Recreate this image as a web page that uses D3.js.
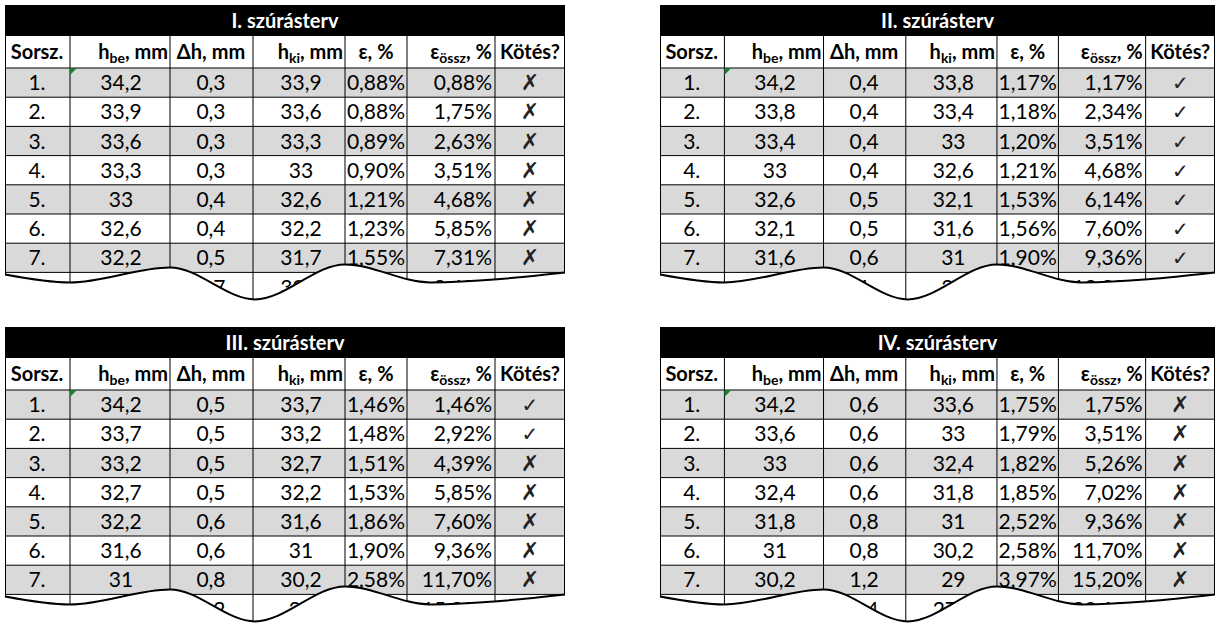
<!DOCTYPE html>
<html><head><meta charset="utf-8">
<script src="https://cdn.jsdelivr.net/npm/d3@7"></script>
<style>body{margin:0;background:#fff}svg{font-family:Lato,"Open Sans",sans-serif}</style>
</head><body><svg id="c" width="1220" height="632"></svg>
<script>
const titles = ["I. szúrásterv", "II. szúrásterv", "III. szúrásterv", "IV. szúrásterv"]
const sorsz = ["1.", "2.", "3.", "4.", "5.", "6.", "7.", "8."]
const hbe = [
  ["34,2","33,9","33,6","33,3","33","32,6","32,2","31,7"],
  ["34,2","33,8","33,4","33","32,6","32,1","31,6","31"],
  ["34,2","33,7","33,2","32,7","32,2","31,6","31","30,2"],
  ["34,2","33,6","33","32,4","31,8","31","30,2","29"]]
const dh = [
  ["0,3","0,3","0,3","0,3","0,4","0,4","0,5","0,7"],
  ["0,4","0,4","0,4","0,4","0,5","0,5","0,6","1"],
  ["0,5","0,5","0,5","0,5","0,6","0,6","0,8","1,2"],
  ["0,6","0,6","0,6","0,6","0,8","0,8","1,2","1,4"]]
const hki = [
  ["33,9","33,6","33,3","33","32,6","32,2","31,7","30,9"],
  ["33,8","33,4","33","32,6","32,1","31,6","31","30"],
  ["33,7","33,2","32,7","32,2","31,6","31","30,2","29"],
  ["33,6","33","32,4","31,8","31","30,2","29","27,6"]]
const eps = [
  ["0,88%","0,88%","0,89%","0,90%","1,21%","1,23%","1,55%","2,21%"],
  ["1,17%","1,18%","1,20%","1,21%","1,53%","1,56%","1,90%","3,23%"],
  ["1,46%","1,48%","1,51%","1,53%","1,86%","1,90%","2,58%","3,97%"],
  ["1,75%","1,79%","1,82%","1,85%","2,52%","2,58%","3,97%","4,87%"]]
const epsOssz = [
  ["0,88%","1,75%","2,63%","3,51%","4,68%","5,85%","7,31%","9,65%"],
  ["1,17%","2,34%","3,51%","4,68%","6,14%","7,60%","9,36%","12,28%"],
  ["1,46%","2,92%","4,39%","5,85%","7,60%","9,36%","11,70%","15,30%"],
  ["1,75%","3,51%","5,26%","7,02%","9,36%","11,70%","15,20%","20,18%"]]
const kotes = [
  [0,0,0,0,0,0,0,0],
  [1,1,1,1,1,1,1,0],
  [1,1,0,0,0,0,0,0],
  [0,0,0,0,0,0,0,0]]

const origins = [[5,5],[660,5],[5,327],[660,327]]
const colEdges = [0,65,165,248,340,402,490,560]
const titleH = 31, headH = 32, rowH = 29.2
const svg = d3.select("#c")

titles.forEach((title, t) => {
  const [ox, oy] = origins[t]
  const g = svg.append("g").attr("transform", `translate(${ox},${oy})`)
  const x = d3.scaleLinear().domain([0, 560]).range([0, 555 + (t % 2 ? 0 : 5)])
  const y = i => titleH + headH + i * rowH
  const rowsBottom = y(7)
  const wave = [[0,2],[65,10],[165,-5],[250,27],[340,-8],[425,10],[560,0]]
  const waveLine = d3.line().x(d => x(d[0])).y(d => rowsBottom + d[1]).curve(d3.curveMonotoneX)
  const clipId = "clip" + t
  g.append("clipPath").attr("id", clipId).append("path")
    .attr("d", `M0,-2 L${x(560)},-2 L${x(560)},${rowsBottom} ` + waveLine(wave.slice().reverse()).replace(/^M/, "L") + " Z")

  const body = g.append("g").attr("clip-path", `url(#${clipId})`)
  body.append("rect").attr("width", x(560)).attr("height", titleH).attr("fill", "#000")
  body.append("text").attr("x", x(280)).attr("y", titleH / 2 + 7).attr("text-anchor", "middle")
    .attr("fill", "#fff").attr("font-weight", "bold").attr("font-size", 20).text(title)

  for (let i = 0; i < 8; i++) {
    body.append("rect").attr("y", y(i)).attr("width", x(560)).attr("height", rowH)
      .attr("fill", i % 2 === 0 && i < 7 ? "#d9d9d9" : "#fff")
  }
  // grid
  colEdges.forEach(c => body.append("line").attr("x1", x(c)).attr("x2", x(c))
    .attr("y1", titleH).attr("y2", y(8)).attr("stroke", "#000").attr("stroke-width", c === 0 || c === 560 ? 2 : 1))
  for (let i = 0; i <= 8; i++) body.append("line").attr("x1", 0).attr("x2", x(560))
    .attr("y1", y(i)).attr("y2", y(i)).attr("stroke", "#000").attr("stroke-width", 1)

  // header
  const hy = titleH + headH / 2 + 7
  const head = body.append("g").attr("font-weight", "bold").attr("font-size", 20)
  head.append("text").attr("x", x(32)).attr("y", hy).attr("text-anchor", "middle").text("Sorsz.")
  const hb = head.append("text").attr("x", x(163)).attr("y", hy).attr("text-anchor", "end")
  hb.append("tspan").text("h"); hb.append("tspan").attr("font-size", 14).attr("dy", 4).text("be")
  hb.append("tspan").attr("dy", -4).text(", mm")
  head.append("text").attr("x", x(206)).attr("y", hy).attr("text-anchor", "middle").text("Δh, mm")
  const hk = head.append("text").attr("x", x(338)).attr("y", hy).attr("text-anchor", "end")
  hk.append("tspan").text("h"); hk.append("tspan").attr("font-size", 14).attr("dy", 4).text("ki")
  hk.append("tspan").attr("dy", -4).text(", mm")
  head.append("text").attr("x", x(371)).attr("y", hy).attr("text-anchor", "middle").text("ε, %")
  const eo = head.append("text").attr("x", x(487)).attr("y", hy).attr("text-anchor", "end")
  eo.append("tspan").text("ε"); eo.append("tspan").attr("font-size", 14).attr("dy", 4).text("össz")
  eo.append("tspan").attr("dy", -4).text(", %")
  head.append("text").attr("x", x(525)).attr("y", hy).attr("text-anchor", "middle").text("Kötés?")

  // body cells
  const cells = body.append("g").attr("font-size", 21)
  for (let i = 0; i < 8; i++) {
    const ty = y(i) + rowH / 2 + 7.5
    const put = (cx, s, anchor) => cells.append("text").attr("x", x(cx)).attr("y", ty)
      .attr("text-anchor", anchor || "middle").text(s)
    put(32, sorsz[i]); put(116, hbe[t][i]); put(206, dh[t][i]); put(296, hki[t][i])
    put(371, eps[t][i]); put(487, epsOssz[t][i], "end")
    cells.append("text").attr("x", x(525)).attr("y", ty).attr("text-anchor", "middle")
      .attr("font-family", "DejaVu Sans").attr("font-size", kotes[t][i] ? 20 : 22)
      .attr("fill", "#222").text(kotes[t][i] ? "✓" : "✗")
  }
  body.append("path").attr("d", `M${x(65)},${y(0)} l7,0 l-7,7 Z`).attr("fill", "#1e7b34")

  g.append("path").attr("d", waveLine(wave)).attr("fill", "none").attr("stroke", "#000").attr("stroke-width", 2)
})
</script></body></html>
